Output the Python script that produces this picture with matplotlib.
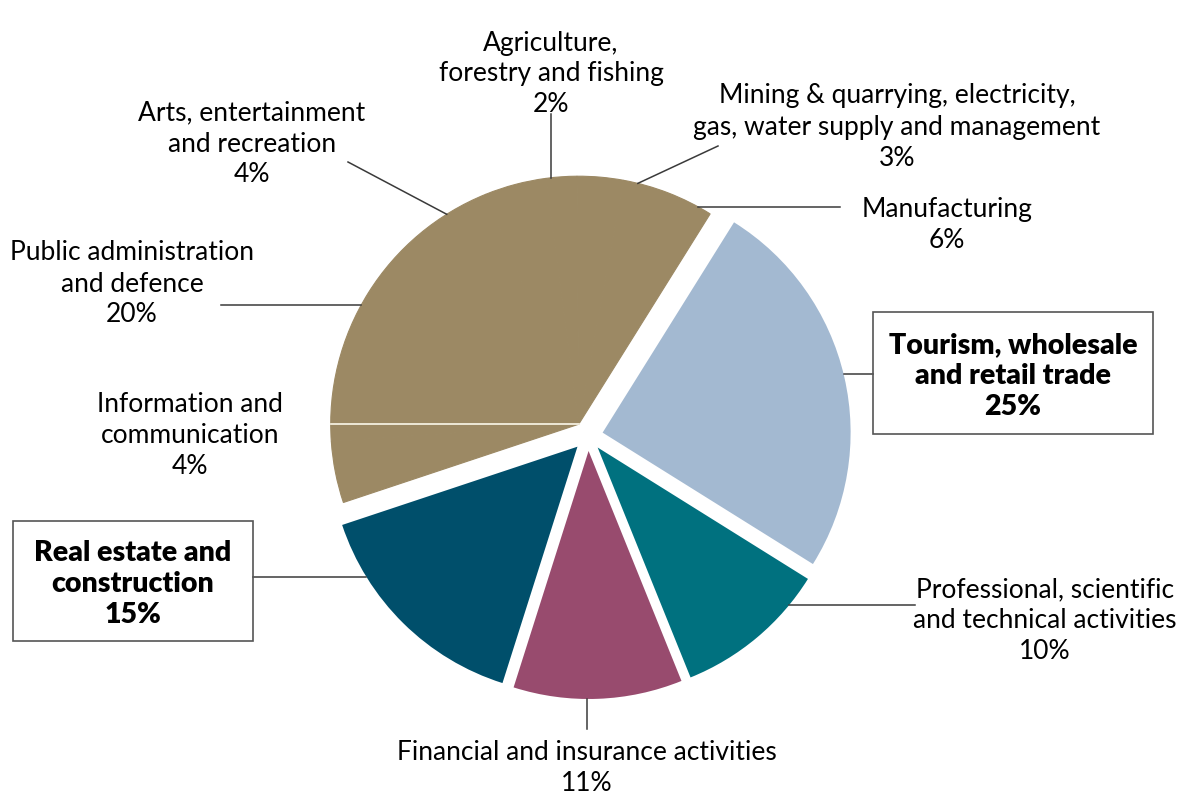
import numpy as np
import matplotlib
matplotlib.use("Agg")
import matplotlib.pyplot as plt
from matplotlib.patches import Rectangle

# ---------------- data ----------------
sectors = [
    "Tourism, wholesale\nand retail trade",
    "Professional, scientific\nand technical activities",
    "Financial and insurance activities",
    "Real estate and\nconstruction",
    "Information and\ncommunication",
    "Public administration\nand defence",
    "Arts, entertainment\nand recreation",
    "Agriculture,\nforestry and fishing",
    "Mining & quarrying, electricity,\ngas, water supply and management",
    "Manufacturing",
]
shares = [25, 10, 11, 15, 4, 20, 4, 2, 3, 6]
# group index: sectors sharing a group are drawn as one exploded block
groups = [0, 1, 2, 3, 4, 4, 4, 4, 4, 4]
group_colors = ["#a3b9d1", "#00717f", "#984b6e", "#004f6b", "#9c8964"]
highlight = [True, False, False, True, False, False, False, False, False, False]

# ---------------- layout (pixels, y down) ----------------
W, H = 1200, 804
CX, CY = 588, 437
R = 248
EXPLODE = 15
START = 58

# text centre (x, y of first line), leader start (x,y), leader direction (deg, y up)
label_pos = [
    (1013, 345), (1045, 590), (587, 753), (133, 553), (190, 405),
    (132, 253), (252, 113), (551, 43), (897, 96), (947, 209),
]
leader_start = [
    (873, 375), (915, 606), (587, 730), (253, 578), None,
    (221, 306), (348, 163), (551, 115), (718, 147), (840, 208),
]
leader_dir = [180, 180, 90, 0, None, 0, -27.9, -90, 205, 180]
boxes = {0: (873, 313, 280, 122), 3: (13, 522, 240, 120)}

fig = plt.figure(figsize=(12, 8.04), dpi=100)
ax = fig.add_axes([0, 0, 1, 1])


def Y(py):
    return H - py


colors = [group_colors[g] for g in groups]
wedges, _ = ax.pie(shares, colors=colors, startangle=START, counterclock=False,
                   radius=R, center=(CX, Y(CY)), frame=True,
                   wedgeprops=dict(linewidth=0, antialiased=True))
ax.set_xlim(0, W)
ax.set_ylim(0, H)
ax.set_aspect("equal")
ax.axis("off")

# angular extent of each group and explosion of the whole group
total = sum(shares)
bounds = START - 360.0 * np.concatenate([[0], np.cumsum(shares)]) / total
group_center = {}
for g in sorted(set(groups)):
    idx = [i for i, gg in enumerate(groups) if gg == g]
    a0, a1 = bounds[idx[0]], bounds[idx[-1] + 1]
    mid = np.deg2rad((a0 + a1) / 2)
    c = (CX + EXPLODE * np.cos(mid), Y(CY) + EXPLODE * np.sin(mid))
    group_center[g] = c
    for i in idx:
        wedges[i].set_center(c)
        if len(idx) > 1:
            # hide seams between wedges of the same block
            wedges[i].set_edgecolor(group_colors[g])
            wedges[i].set_linewidth(0.8)

# leader lines
for i in range(len(sectors)):
    c = np.array(group_center[groups[i]])
    if leader_start[i] is None:
        # light divider line inside the pie
        ax.plot([c[0], c[0] - R], [c[1], c[1]], color="#f4efe0", lw=1.3, zorder=3)
        continue
    s = np.array([leader_start[i][0], Y(leader_start[i][1])], float)
    d = np.array([np.cos(np.deg2rad(leader_dir[i])), np.sin(np.deg2rad(leader_dir[i]))])
    f = s - c
    b = np.dot(f, d)
    disc = b * b - (np.dot(f, f) - R * R)
    t = -b - np.sqrt(max(disc, 0))
    e = s + t * d
    ax.plot([s[0], e[0]], [s[1], e[1]], color="#3a3a3a", lw=1.1, zorder=3)

# labels
for i in range(len(sectors)):
    txt = f"{sectors[i]}\n{shares[i]}%"
    x, y = label_pos[i]
    for k, line in enumerate(txt.split("\n")):
        ax.text(x, Y(y + k * 31), line, ha="center", va="center",
                fontsize=20.5 if highlight[i] else 19, family="Lato",
                fontweight="heavy" if highlight[i] else "normal",
                color="black", zorder=4)

for i, (bx, by, bw, bh) in boxes.items():
    ax.add_patch(Rectangle((bx, Y(by + bh)), bw, bh, fill=False,
                           edgecolor="#555555", lw=1.2, zorder=4))

fig.savefig("out.png", dpi=100, facecolor="white")
